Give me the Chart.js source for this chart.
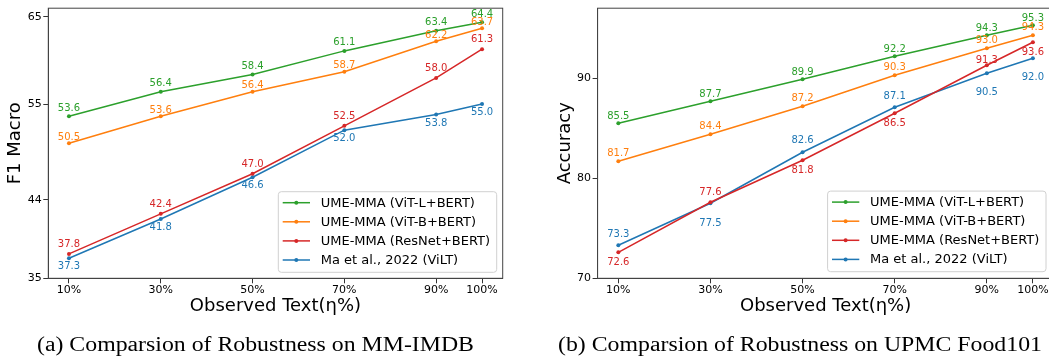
<!DOCTYPE html>
<html>
<head>
<meta charset="utf-8">
<script src="https://cdn.jsdelivr.net/npm/chart.js@4.4.1/dist/chart.umd.min.js"></script>
<style>
  html, body { margin: 0; padding: 0; background: #fff; }
  #wrap { position: relative; width: 1049px; height: 360px; overflow: hidden; background: #fff; }
  canvas { position: absolute; top: 0; }
  .cap { position: absolute; top: 334px; font-family: "Liberation Serif", "Times New Roman", serif; font-size: 20px; line-height: 20px; color: #000; white-space: nowrap; transform: scaleX(1.19); transform-origin: left top; }
</style>
</head>
<body>
<div id="wrap">
  <canvas id="c1" width="530" height="360" style="left:0px;width:530px;height:360px"></canvas>
  <canvas id="c2" width="530" height="360" style="left:530px;width:530px;height:360px"></canvas>
  <div class="cap" style="left:37px">(a) Comparsion of Robustness on MM-IMDB</div>
  <div class="cap" style="left:558px">(b) Comparsion of Robustness on UPMC Food101</div>
</div>
<script>
// ---------------- data ----------------
const observedText = [10, 30, 50, 70, 90, 100];
const xTickLabels = ['10%', '30%', '50%', '70%', '90%', '100%'];
const seriesNames = ['UME-MMA (ViT-L+BERT)', 'UME-MMA (ViT-B+BERT)', 'UME-MMA (ResNet+BERT)', 'Ma et al., 2022 (ViLT)'];

// (a) MM-IMDB, F1 Macro
const imdbVitL   = [53.6, 56.4, 58.4, 61.1, 63.4, 64.4];
const imdbVitB   = [50.5, 53.6, 56.4, 58.7, 62.2, 63.7];
const imdbResNet = [37.8, 42.4, 47.0, 52.5, 58.0, 61.3];
const imdbVilt   = [37.3, 41.8, 46.6, 52.0, 53.8, 55.0];
const imdbYTicks = [35, 44, 55, 65];

// (b) UPMC Food101, Accuracy
const foodVitL   = [85.5, 87.7, 89.9, 92.2, 94.3, 95.3];
const foodVitB   = [81.7, 84.4, 87.2, 90.3, 93.0, 94.3];
const foodResNet = [72.6, 77.6, 81.8, 86.5, 91.3, 93.6];
const foodVilt   = [73.3, 77.5, 82.6, 87.1, 90.5, 92.0];
const foodYTicks = [70, 80, 90];

// ---------------- styling / layout ----------------
const colors = ['#2ca02c', '#ff7f0e', '#d62728', '#1f77b4'];
// value-label vertical offsets in px (negative = above the point)
const imdbLabelDy = [
  [-8, -8, -8, -8, -8, -8],
  [-6, -6, -6, -6, -6, -6],
  [-9.5, -9.5, -9.5, -9.5, -9.5, -9.5],
  [8.5, 8.5, 8.5, 8.5, 8.5, 8.5]
];
const foodLabelDy = [
  [-7.2, -7.2, -7.2, -7.2, -7.2, -7.2],
  [-7.5, -7.5, -7.5, -7.5, -7.5, -7.5],
  [10, -10, 9.7, 9.7, -5, 9.7],
  [-11, 20, -11.4, -10.6, 19, 19]
];

Chart.defaults.font.family = '"DejaVu Sans", sans-serif';
Chart.defaults.color = '#000';

const framePlugin = {
  id: 'frame',
  beforeDatasetsDraw(chart) {
    const { ctx, chartArea: a } = chart;
    ctx.save();
    ctx.strokeStyle = '#444';
    ctx.lineWidth = 1;
    ctx.strokeRect(a.left, a.top, a.right - a.left, a.bottom - a.top);
    ctx.restore();
  }
};

const valueLabelPlugin = {
  id: 'valueLabels',
  afterDatasetsDraw(chart, args, opts) {
    const { ctx } = chart;
    ctx.save();
    ctx.font = '10px "DejaVu Sans"';
    ctx.textAlign = 'center';
    ctx.textBaseline = 'middle';
    chart.data.datasets.forEach((ds, i) => {
      const meta = chart.getDatasetMeta(i);
      ctx.fillStyle = ds.borderColor;
      meta.data.forEach((pt, j) => {
        ctx.fillText(ds.data[j].y.toFixed(1), pt.x, pt.y + opts.dy[i][j]);
      });
    });
    ctx.restore();
  }
};

const boxLegendPlugin = {
  id: 'boxLegend',
  afterDraw(chart, args, opts) {
    const { ctx, chartArea: a } = chart;
    const w = 218.4, h = 80.6;
    const x0 = a.right - opts.marginRight - w;
    const y0 = a.bottom - opts.marginBottom - h;
    ctx.save();
    const r = 3;
    ctx.beginPath();
    ctx.moveTo(x0 + r, y0);
    ctx.lineTo(x0 + w - r, y0);
    ctx.quadraticCurveTo(x0 + w, y0, x0 + w, y0 + r);
    ctx.lineTo(x0 + w, y0 + h - r);
    ctx.quadraticCurveTo(x0 + w, y0 + h, x0 + w - r, y0 + h);
    ctx.lineTo(x0 + r, y0 + h);
    ctx.quadraticCurveTo(x0, y0 + h, x0, y0 + h - r);
    ctx.lineTo(x0, y0 + r);
    ctx.quadraticCurveTo(x0, y0, x0 + r, y0);
    ctx.closePath();
    ctx.fillStyle = 'rgba(255,255,255,0.8)';
    ctx.fill();
    ctx.strokeStyle = '#d0d0d0';
    ctx.lineWidth = 1;
    ctx.stroke();
    ctx.font = '13px "DejaVu Sans"';
    ctx.textAlign = 'left';
    ctx.textBaseline = 'middle';
    chart.data.datasets.forEach((ds, i) => {
      const y = y0 + 11 + i * 19.1;
      ctx.strokeStyle = ds.borderColor;
      ctx.lineWidth = 1.5;
      ctx.beginPath();
      ctx.moveTo(x0 + 4.4, y);
      ctx.lineTo(x0 + 31.7, y);
      ctx.stroke();
      ctx.fillStyle = ds.borderColor;
      ctx.beginPath();
      ctx.arc(x0 + 18, y, 2, 0, Math.PI * 2);
      ctx.fill();
      ctx.fillStyle = '#000';
      ctx.fillText(ds.label, x0 + 42.4, y + 0.5);
    });
    ctx.restore();
  }
};

function makeDatasets(seriesList) {
  return seriesList.map((vals, i) => ({
    label: seriesNames[i],
    data: vals.map((v, j) => ({ x: observedText[j], y: v })),
    borderColor: colors[i],
    backgroundColor: colors[i],
    borderWidth: 1.5,
    pointRadius: 2,
    pointBorderWidth: 0,
    pointHoverRadius: 2,
    tension: 0,
    fill: false
  }));
}

function makeChart(id, cfg) {
  return new Chart(document.getElementById(id), {
    type: 'line',
    data: { datasets: makeDatasets(cfg.series) },
    plugins: [framePlugin, valueLabelPlugin, boxLegendPlugin],
    options: {
      responsive: false,
      animation: false,
      devicePixelRatio: 1,
      layout: { padding: { left: 0, top: cfg.top, right: cfg.padRight, bottom: 0 } },
      plugins: {
        legend: { display: false },
        tooltip: { enabled: false },
        valueLabels: { dy: cfg.dy },
        boxLegend: { marginRight: cfg.legRight, marginBottom: cfg.legBottom }
      },
      scales: {
        x: {
          type: 'linear',
          min: 5.5,
          max: 104.5,
          afterBuildTicks: s => { s.ticks = observedText.map(v => ({ value: v })); },
          afterFit: s => { s.height = cfg.xAxisH; },
          ticks: {
            autoSkip: false, maxRotation: 0, padding: 0,
            font: { size: 11 }, color: '#000',
            callback: v => xTickLabels[observedText.indexOf(v)]
          },
          grid: { display: true, drawOnChartArea: false, drawTicks: true, tickLength: 5, color: '#333' },
          border: { display: true, color: '#444' },
          title: { display: true, text: 'Observed Text(η%)', color: '#000', font: { size: 18 }, padding: { top: 0, bottom: 43 } }
        },
        y: {
          min: cfg.yMin,
          max: cfg.yMax,
          afterBuildTicks: s => { s.ticks = cfg.yTicks.map(v => ({ value: v })); },
          afterFit: s => { s.width = cfg.yAxisW; },
          ticks: { padding: 1.6, font: { size: 11 }, color: '#000', callback: v => String(v) },
          grid: { display: true, drawOnChartArea: false, drawTicks: true, tickLength: 5, color: '#333' },
          border: { display: true, color: '#444' },
          title: { display: true, text: cfg.yTitle, color: '#000', font: { size: 18 }, padding: { top: cfg.yTitlePad, bottom: 0 } }
        }
      }
    }
  });
}

makeChart('c1', {
  series: [imdbVitL, imdbVitB, imdbResNet, imdbVilt],
  dy: imdbLabelDy,
  yMin: 35, yMax: 66, yTicks: imdbYTicks, yTitle: 'F1 Macro',
  top: 6.7, padRight: 27.3, yAxisW: 48.3, xAxisH: 81.7, yTitlePad: 4.9,
  legRight: 6, legBottom: 6
});

makeChart('c2', {
  series: [foodVitL, foodVitB, foodResNet, foodVilt],
  dy: foodLabelDy,
  yMin: 70, yMax: 97, yTicks: foodYTicks, yTitle: 'Accuracy',
  top: 6.7, padRight: 6.4, yAxisW: 67.6, xAxisH: 81.7, yTitlePad: 24.9,
  legRight: 7.6, legBottom: 6.6
});
</script>
</body>
</html>
